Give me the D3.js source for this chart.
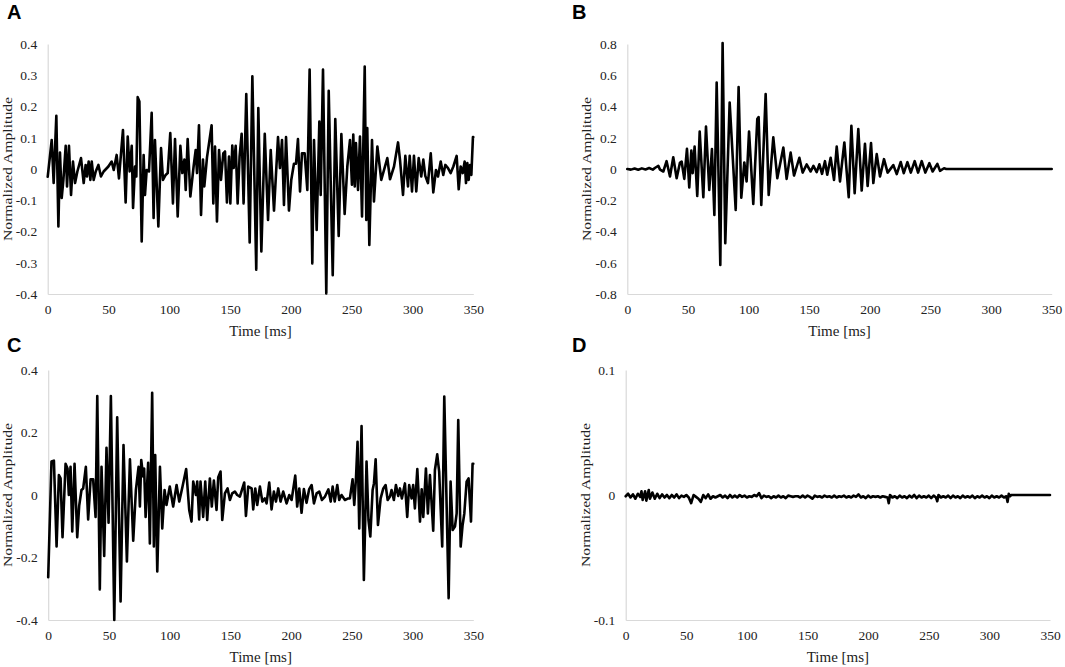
<!DOCTYPE html>
<html>
<head>
<meta charset="utf-8">
<script src="https://cdn.jsdelivr.net/npm/d3@7"></script>
<style>
  html, body { margin: 0; padding: 0; background: #fff; }
  svg { display: block; }
</style>
</head>
<body>
<svg id="chart" width="1065" height="667"></svg>
<script>
// ---------------- DATA ----------------
const xTicks = [0, 50, 100, 150, 200, 250, 300, 350];
const yTicksA = [-0.4, -0.3, -0.2, -0.1, 0, 0.1, 0.2, 0.3, 0.4];
const yTicksB = [-0.8, -0.6, -0.4, -0.2, 0, 0.2, 0.4, 0.6, 0.8];
const yTicksC = [-0.4, -0.2, 0, 0.2, 0.4];
const yTicksD = [-0.1, 0, 0.1];
const panelLabels = ["A", "B", "C", "D"];
const xTitle = "Time [ms]";
const yTitle = "Normalized Amplitude";

// [time (ms), normalized amplitude]
const seriesA = [
[0,-0.025],[3.3,0.093],[4.9,-0.045],[7.1,0.17],[8.8,-0.184],[10.1,0.053],[11.5,-0.093],[12.9,-0.035],[14.8,0.074],[15.9,-0.056],[17.5,0.074],[19.2,-0.083],[20.8,0.024],[22.5,-0.045],[24.4,-0.008],[27.4,0.035],[29.6,-0.045],[31.2,0.013],[32.3,-0.024],[33.7,0.024],[35.1,-0.035],[36.2,0.024],[37.8,-0.035],[39.5,-0.008],[41.7,0.013],[43.8,-0.024],[46,-0.008],[49.9,0.008],[52.6,0.024],[54.3,-0.003],[56.7,0.045],[58.6,-0.03],[61.9,0.125],[64.1,-0.107],[65.8,0.104],[67.4,-0.008],[69.1,0.074],[70.2,-0.125],[71.8,0.008],[72.9,-0.024],[74,0.23],[75.4,0.216],[77.3,-0.232],[78.9,0.045],[80,-0.083],[81.4,-0.003],[83.3,-0.008],[85.5,0.18],[87.1,-0.157],[88.2,0.093],[91,-0.184],[93.2,0.067],[94.8,-0.035],[97,-0.019],[98.7,-0.013],[100.8,0.115],[103,-0.11],[104.7,0.096],[106.9,-0.152],[109.1,0.074],[110.7,-0.013],[112.4,0.03],[113.5,-0.067],[115.1,0.096],[117.3,-0.088],[120,0.008],[121.7,0.061],[122.8,-0.013],[124.4,0.14],[126.1,-0.147],[127.7,0.03],[128.8,-0.056],[131,0.037],[134.8,0.14],[136.2,-0.11],[137.6,0.072],[139.2,-0.168],[140.9,0.061],[142.5,-0.035],[144.4,0.05],[145.8,0.056],[147.4,-0.107],[149.1,0.04],[150.2,-0.11],[151.8,0.075],[152.9,0.003],[154.6,0.074],[156.2,-0.11],[157.8,0.04],[159.5,0.113],[161.1,-0.11],[163.3,0.24],[166.1,-0.235],[168.3,0.297],[171.5,-0.322],[173.2,0.195],[175.7,-0.264],[178.5,0.113],[181.2,-0.163],[183.4,0.061],[186.1,-0.133],[189.4,0.102],[191,0.003],[192.7,0.093],[194.3,-0.115],[196,0.102],[198.4,-0.133],[200.3,-0.035],[202.5,0.017],[204.2,0.017],[205.8,0.096],[207.5,-0.072],[209.1,0.05],[211.3,0.05],[213.5,-0.067],[215.4,0.318],[217.6,-0.302],[219,0.093],[221.2,-0.195],[223.4,0.152],[224.5,-0.083],[226.4,0.318],[229.1,-0.398],[231.1,0.25],[234.4,-0.34],[236.5,0.16],[239.3,-0.214],[241.5,0.112],[244.2,-0.144],[246.4,0.008],[248.6,0.093],[250.2,-0.05],[251.3,0.11],[252.5,-0.056],[253.5,0.083],[255.2,-0.067],[256.8,0.104],[258.5,-0.152],[260.7,0.328],[262,-0.163],[262.8,0.131],[264.5,-0.243],[266.7,0.093],[268.3,-0.104],[271.1,0.072],[274.3,-0.035],[276.6,-0.003],[279.3,0.035],[281.5,-0.033],[284.8,0.008],[288.1,0.085],[289.7,0.03],[292.2,-0.083],[294.1,0.042],[296.3,-0.056],[297.7,0.042],[299.6,-0.072],[301.2,0.042],[303.1,-0.072],[305.1,0.035],[307.2,-0.024],[308.9,0.03],[310.5,-0.022],[312.7,-0.045],[315,0.05],[317.1,-0.075],[319.3,-0.003],[321,-0.024],[323.2,0.024],[325.3,-0.019],[327,0.013],[329.2,0.003],[331.4,-0.013],[333.6,0.008],[336.3,0.042],[338,-0.065],[339.6,0.008],[341.3,-0.013],[342.9,0.024],[344,-0.045],[345.1,0.019],[346.2,-0.035],[347.3,0.013],[348.4,-0.019],[349.7,0.102],[350,0.102]
];

const seriesB = [
[0,0],[3,-0.004],[6,0.003],[9,-0.005],[12,0.004],[15,-0.003],[18,0.006],[21,-0.004],[23,0.008],[25.6,0.02],[27,-0.004],[29.7,-0.016],[32.4,0.05],[35.2,-0.048],[37.9,0.075],[40.7,-0.059],[43.4,0.04],[44.8,0.048],[47,-0.063],[49.2,0.129],[51.1,-0.118],[52.8,0.118],[53.9,-0.027],[55.5,0.144],[57.7,-0.172],[59.7,0.24],[62.7,-0.18],[64.9,0.272],[67.6,-0.134],[69.8,0.127],[71.8,-0.294],[73.7,0.554],[76.7,-0.614],[78.6,0.806],[80.8,-0.475],[84.4,0.426],[89.4,-0.262],[91.8,0.524],[94,-0.183],[96.5,0.042],[98.4,-0.08],[100.4,0.24],[103.9,-0.223],[107.2,0.32],[108.3,0.332],[110.5,-0.23],[114.1,0.48],[116.6,-0.166],[120.4,0.203],[123.7,-0.059],[128.7,0.137],[131.4,-0.063],[134.7,0.105],[137.5,-0.042],[141.9,0.072],[144.6,-0.023],[147.9,0.029],[151.2,-0.016],[153.5,0.02],[156.2,-0.02],[158.4,0.03],[160.6,-0.031],[163,0.05],[164.9,-0.037],[167.7,0.072],[170.5,-0.07],[172.7,0.144],[175.4,-0.08],[179,0.17],[182.6,-0.18],[184.8,0.277],[187.5,-0.155],[190.5,0.255],[193.3,-0.138],[196,0.161],[198.2,-0.109],[201,0.166],[202.9,-0.09],[205.7,0.095],[208.4,-0.048],[211.7,0.063],[214.7,-0.023],[219.4,0.025],[222.2,-0.033],[225.5,0.045],[228,-0.027],[231,0.044],[233.8,-0.023],[237,0.05],[239.8,-0.023],[242.8,0.05],[245.8,-0.023],[249.1,0.037],[251.8,-0.016],[255.7,0.033],[257.9,-0.012],[261.2,0.005],[263,0],[350,0]
];

const seriesC = [
[0,-0.263],[2.7,0.107],[4.7,0.11],[6.9,-0.165],[8.8,0.064],[10.2,0.053],[11.8,-0.135],[14.3,0.1],[15.9,0.085],[17,0],[18.4,0.09],[19.8,-0.117],[21.7,0.1],[23.9,-0.135],[25.5,-0.035],[27.4,0.016],[28.8,0.021],[31,0.09],[32.9,-0.078],[34.9,0.05],[37,0.05],[39,-0.07],[40.4,0.317],[42.5,-0.302],[43.9,0.09],[46.1,-0.195],[48,0.151],[49.7,-0.089],[51.6,0.317],[54.4,-0.4],[56.8,0.249],[59.6,-0.341],[62,0.16],[64.8,-0.213],[67.3,0.114],[70,-0.146],[72.2,0.016],[74.4,0.09],[75.5,-0.037],[76.6,0.112],[78.2,0.059],[79,0.085],[80.2,-0.07],[82.3,0.103],[83.7,-0.155],[85.6,0.327],[87,-0.165],[88.1,0.128],[89.8,-0.245],[92,0.09],[93.9,-0.107],[95.8,0.016],[97.4,-0.032],[100.1,0.027],[102.9,-0.037],[105.7,0.032],[107.9,-0.021],[110.6,0.027],[113.6,0.083],[116.1,-0.048],[118,-0.085],[119.4,0.043],[121.6,0],[122.7,0.043],[124.3,-0.078],[125.4,0.043],[127.6,-0.07],[129.3,0.043],[130.9,-0.08],[133.1,0.053],[134.7,-0.037],[136.4,0.046],[138.6,-0.048],[140,0.057],[141.9,0.075],[143.3,-0.08],[145.5,0.005],[147.7,0.021],[149.6,-0.016],[151.5,0.005],[153.7,0.011],[155.6,0],[157.8,-0.005],[161.4,0.04],[162.8,-0.067],[164.7,0.027],[167.5,0.021],[168.8,-0.046],[170.5,0.021],[172.1,-0.032],[174.3,0.027],[176.3,-0.021],[178.4,-0.011],[179.8,-0.027],[182,0.04],[183.9,-0.046],[185.8,0.011],[187.5,-0.021],[189.4,0.021],[191.3,-0.021],[193.5,0.011],[196.3,-0.027],[198.5,0],[200.4,-0.016],[203.4,0.062],[205,-0.037],[206.7,0.021],[208.6,-0.057],[210.5,0.019],[212.7,-0.025],[214.9,0.019],[216.9,0.032],[218.8,-0.027],[221,0.005],[223.2,0.011],[225.4,-0.016],[227.9,-0.005],[230.7,0.018],[232.6,-0.021],[234.2,0.027],[235.9,-0.021],[238,0.032],[239.6,-0.016],[241.5,0],[244.3,-0.016],[247,-0.011],[248.4,-0.011],[250.6,0.05],[252,-0.032],[253.4,0.053],[254.7,0.17],[256.1,-0.107],[258,0.221],[259.9,-0.272],[262.1,0.107],[263.7,-0.08],[265.2,-0.133],[267.1,0.016],[268.2,0.037],[269.6,0.114],[271.5,-0.096],[273.7,-0.011],[275.9,0.021],[277.8,0.032],[279.5,-0.016],[281.4,-0.005],[282.7,0.016],[284.6,-0.016],[286.3,0.032],[288.2,-0.003],[289.6,0.021],[291.2,-0.011],[293.7,0.037],[295.6,-0.07],[297.2,0.032],[299.2,-0.011],[300.5,0.032],[301.9,-0.043],[303.9,0.083],[306.1,-0.085],[307.5,0.018],[308.8,-0.07],[311,0.085],[312.6,-0.059],[314.3,0.064],[317,-0.114],[318.4,0.08],[320.3,0.13],[321.9,0.075],[324.4,-0.165],[326.1,0.315],[329.7,-0.33],[331.3,0.043],[333,-0.112],[334.9,-0.101],[336.3,-0.059],[337.6,0.24],[339.6,-0.165],[341.2,-0.096],[342.6,-0.059],[344.5,0.043],[346.1,0.053],[348.1,-0.085],[349.4,0.1],[350,0.1]
];

const seriesD = [
[0,-0.001],[2,0.001],[4,-0.002],[6,0.0005],[8,-0.003],[10,0.001],[12,-0.0015],[13,0.003],[14,-0.004],[16,0.003],[17,-0.0045],[19,0.004],[20,-0.003],[22,0.002],[24,-0.003],[26,0.001],[28,-0.0025],[30,0.0005],[32,-0.002],[34,0],[36,-0.0025],[38,0],[40,-0.002],[42,0.0005],[44,-0.0025],[46,-0.0005],[48,-0.0015],[50,0],[52,-0.002],[54,-0.0065],[56,0],[58,-0.0015],[60,-0.003],[62,-0.0055],[64,0],[66,-0.0025],[68,0.0005],[70,-0.003],[72,-0.001],[74,-0.002],[76,-0.001],[78,0],[80,-0.002],[82,-0.0005],[84,-0.0025],[86,0],[88,-0.002],[90,-0.0005],[92,-0.002],[94,0],[96,-0.0015],[98,-0.0005],[100,-0.002],[102,-0.001],[104,-0.0015],[106,0],[108,-0.001],[110,0.0015],[112,-0.0025],[114,-0.0005],[116,-0.0015],[118,-0.001],[120,-0.0025],[122,-0.001],[124,-0.002],[126,-0.0005],[128,-0.002],[130,-0.001],[132,-0.0025],[134,-0.0005],[136,-0.001],[138,-0.0015],[140,-0.001],[142,-0.001],[144,-0.002],[146,-0.0005],[148,-0.002],[150,-0.0005],[152,-0.0015],[154,-0.003],[156,-0.0005],[158,-0.0015],[160,-0.001],[162,-0.002],[164,-0.0005],[166,-0.0015],[168,-0.001],[170,-0.002],[172,-0.0005],[174,-0.002],[176,-0.001],[178,-0.0015],[180,-0.0005],[182,-0.002],[184,-0.001],[186,-0.002],[188,-0.0005],[190,-0.0015],[192,0.0005],[194,-0.002],[196,-0.001],[198,-0.0025],[200,-0.0005],[202,-0.002],[204,-0.001],[206,-0.0015],[208,-0.001],[210,-0.002],[212,-0.001],[214,-0.0015],[216,-0.002],[217,-0.0065],[218,0],[220,-0.002],[222,-0.001],[224,-0.0025],[226,-0.0005],[228,-0.002],[230,-0.001],[232,-0.0025],[234,-0.0005],[236,-0.002],[238,0],[240,-0.0025],[242,-0.0005],[244,-0.002],[246,-0.001],[248,-0.002],[250,-0.0005],[252,-0.0025],[254,-0.0005],[256,-0.002],[257,-0.005],[258,0],[260,-0.002],[262,-0.001],[264,-0.002],[266,-0.0005],[268,-0.0025],[270,-0.0005],[272,-0.002],[274,-0.001],[276,-0.0025],[278,-0.0005],[280,-0.002],[282,-0.001],[284,-0.002],[286,-0.0005],[288,-0.0025],[290,-0.001],[292,-0.002],[294,-0.0005],[296,-0.002],[298,-0.001],[300,-0.0025],[302,-0.0005],[304,-0.002],[306,-0.001],[308,-0.002],[310,-0.0005],[312,-0.002],[314,-0.001],[315,-0.0055],[316,0.001],[317,-0.001],[318,0],[350,0]
];

// ---------------- LAYOUT ----------------
const panels = [
  { label: panelLabels[0], data: seriesA, yTicks: yTicksA, x0: 47.7, x1: 473.3, y0: 44, y1: 294, lx: 7,   ly: 18.5 },
  { label: panelLabels[1], data: seriesB, yTicks: yTicksB, x0: 627.3, x1: 1051.7, y0: 44, y1: 294, lx: 572, ly: 18.5 },
  { label: panelLabels[2], data: seriesC, yTicks: yTicksC, x0: 48.2, x1: 473.3, y0: 370, y1: 620, lx: 7,   ly: 351.7 },
  { label: panelLabels[3], data: seriesD, yTicks: yTicksD, x0: 625.7, x1: 1050, y0: 370, y1: 620, lx: 572, ly: 351.7 }
];

const svg = d3.select("#chart");
const serif = "'Liberation Serif', 'Times New Roman', serif";
const axisColor = "#d9d9d9";

panels.forEach(p => {
  const yExt = d3.extent(p.yTicks);
  const x = d3.scaleLinear().domain([0, 350]).range([p.x0, p.x1]);
  const y = d3.scaleLinear().domain(yExt).range([p.y1, p.y0]);

  // x axis (at bottom)
  const gx = svg.append("g")
    .attr("font-family", serif)
    .attr("transform", `translate(0,${p.y1})`)
    .call(d3.axisBottom(x).tickValues(xTicks).tickSize(0).tickPadding(10.5).tickFormat(d3.format("d")));
  gx.attr("font-family", serif).attr("font-size", 13.5);
  gx.select(".domain").attr("stroke", axisColor).attr("stroke-width", 1.2);
  gx.selectAll("text").attr("font-family", serif).attr("font-size", "13.5px").attr("fill", "#222");

  // y axis (at left)
  const gy = svg.append("g")
    .attr("transform", `translate(${p.x0},0)`)
    .call(d3.axisLeft(y).tickValues(p.yTicks).tickSize(0).tickPadding(10.5)
      .tickFormat(d => (Math.abs(d) < 1e-9 ? "0" : String(+d.toFixed(2)))));
  gy.attr("font-family", serif).attr("font-size", 13.5);
  gy.select(".domain").attr("stroke", axisColor).attr("stroke-width", 1.2);
  gy.selectAll("text").attr("font-family", serif).attr("font-size", "13.5px").attr("fill", "#222");

  // trace
  const line = d3.line().x(d => x(d[0])).y(d => y(d[1]));
  svg.append("path")
    .datum(p.data)
    .attr("d", line)
    .attr("fill", "none")
    .attr("stroke", "#000")
    .attr("stroke-width", 2.6)
    .attr("stroke-linejoin", "round")
    .attr("stroke-linecap", "round");

  // axis titles
  svg.append("text")
    .attr("x", (p.x0 + p.x1) / 2)
    .attr("y", p.y1 + 41.5)
    .attr("text-anchor", "middle")
    .attr("font-family", serif)
    .attr("font-size", "15px")
    .attr("fill", "#222")
    .text(xTitle);

  svg.append("text")
    .attr("transform", `translate(${p.x0 - 36},${(p.y0 + p.y1) / 2}) rotate(-90)`)
    .attr("text-anchor", "middle")
    .attr("font-family", serif)
    .attr("font-size", "12.5px")
    .attr("textLength", 144)
    .attr("lengthAdjust", "spacingAndGlyphs")
    .attr("fill", "#222")
    .text(yTitle);

  // panel letter
  svg.append("text")
    .attr("x", p.lx)
    .attr("y", p.ly)
    .attr("font-family", "'Liberation Sans', Arial, sans-serif")
    .attr("font-weight", "bold")
    .attr("font-size", "20px")
    .attr("fill", "#000")
    .text(p.label);
});
</script>
</body>
</html>
